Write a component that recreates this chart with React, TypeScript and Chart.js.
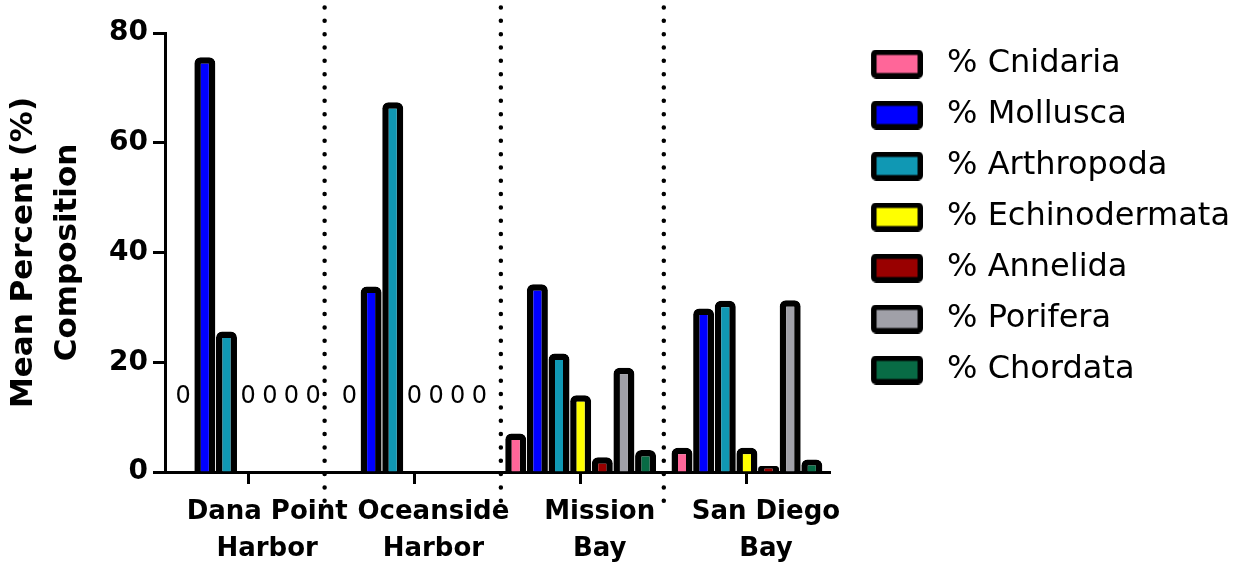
import React, { useEffect, useRef } from 'react';
import { Chart, registerables } from 'chart.js';

Chart.register(...registerables);

// ---- data ----
const sites: string[][] = [
  ['Dana Point', 'Harbor'],
  ['Oceanside', 'Harbor'],
  ['Mission', 'Bay'],
  ['San Diego', 'Bay'],
];
const seriesNames = [
  '% Cnidaria',
  '% Mollusca',
  '% Arthropoda',
  '% Echinodermata',
  '% Annelida',
  '% Porifera',
  '% Chordata',
];
const cnidaria = [0, 0, 7.0, 4.4];
const mollusca = [75.6, 33.8, 34.2, 29.8];
const arthropoda = [25.6, 67.4, 21.6, 31.2];
const echinodermata = [0, 0, 14.0, 4.4];
const annelida = [0, 0, 2.7, 1.1];
const porifera = [0, 0, 19.0, 31.3];
const chordata = [0, 0, 4.0, 2.3];
const seriesValues = [cnidaria, mollusca, arthropoda, echinodermata, annelida, porifera, chordata];
const seriesColors = ['#FF6699', '#0000FF', '#1098B4', '#FFFF00', '#990000', '#A0A0A8', '#086B45'];
const yMin = 0;
const yMax = 80;
const yStep = 20;
// dotted separators, in category units
const dividerPositions = [0.46, 1.52, 2.5];
// height (in axis units) where "0" annotations for empty bars are written
const zeroLabelLevel = 13.7;

const FONT = "'DejaVu Sans', 'Liberation Sans', Arial, sans-serif";

function makeLegendIcon(color: string): HTMLCanvasElement {
  const c = document.createElement('canvas');
  c.width = 66;
  c.height = 29;
  const g = c.getContext('2d')!;
  g.fillStyle = '#000';
  g.beginPath();
  (g as any).roundRect(14, 0, 52, 29, 5);
  g.fill();
  g.fillStyle = color;
  g.fillRect(19.5, 5.5, 41, 18);
  return c;
}

const zeroLabelPlugin = {
  id: 'zeroLabels',
  afterDatasetsDraw(chart: any) {
    const ctx = chart.ctx;
    const y = chart.scales.y.getPixelForValue(zeroLabelLevel);
    ctx.save();
    ctx.font = `24px ${FONT}`;
    ctx.fillStyle = '#000';
    ctx.textAlign = 'center';
    ctx.textBaseline = 'middle';
    chart.data.datasets.forEach((ds: any, i: number) => {
      const meta = chart.getDatasetMeta(i);
      ds.data.forEach((v: number, j: number) => {
        if (v === 0) ctx.fillText('0', meta.data[j].x, y);
      });
    });
    ctx.restore();
  },
};

const dividerPlugin = {
  id: 'dividers',
  afterDraw(chart: any) {
    const ctx = chart.ctx;
    const xs = chart.scales.x;
    const { top, bottom } = chart.chartArea;
    ctx.save();
    ctx.strokeStyle = '#000';
    ctx.lineWidth = 4.5;
    ctx.lineCap = 'round';
    ctx.setLineDash([0, 13.33]);
    dividerPositions.forEach((v) => {
      const x = xs.getPixelForValue(v);
      ctx.beginPath();
      ctx.moveTo(x, top - 25.5);
      ctx.lineTo(x, bottom + 29);
      ctx.stroke();
    });
    ctx.restore();
  },
};

export default function App() {
  const canvasRef = useRef<HTMLCanvasElement | null>(null);

  useEffect(() => {
    if (!canvasRef.current) return;
    const icons = seriesColors.map((c) => makeLegendIcon(c));
    const chart = new Chart(canvasRef.current, {
      type: 'bar',
      data: {
        labels: sites,
        datasets: seriesNames.map((name, i) => ({
          label: name,
          data: seriesValues[i],
          backgroundColor: seriesColors[i],
          borderColor: '#000',
          borderWidth: 6.5,
          borderRadius: 6,
          borderSkipped: 'start',
          categoryPercentage: 0.911,
          barPercentage: 0.97,
        })),
      },
      options: {
        responsive: false,
        animation: false,
        layout: { padding: { top: 29, right: 5, bottom: 0, left: 0 } },
        plugins: {
          tooltip: { enabled: false },
          legend: {
            position: 'right',
            align: 'start',
            maxWidth: 416,
            labels: {
              usePointStyle: true,
              pointStyleWidth: 82,
              padding: 19,
              color: '#000',
              font: { family: FONT, size: 32 },
              generateLabels: (ch: any) =>
                ch.data.datasets.map((ds: any, i: number) => ({
                  text: ds.label,
                  pointStyle: icons[i],
                  fillStyle: ds.backgroundColor,
                  strokeStyle: '#000',
                  lineWidth: 0,
                  hidden: false,
                  datasetIndex: i,
                })),
            },
          },
        },
        scales: {
          x: {
            offset: true,
            ticks: {
              color: '#000',
              font: { family: FONT, size: 26, weight: 'bold', lineHeight: 1.45 },
              padding: 9,
              labelOffset: 19,
              maxRotation: 0,
              autoSkip: false,
            },
            grid: {
              offset: false,
              drawOnChartArea: false,
              drawTicks: true,
              tickLength: 12,
              tickWidth: 3,
              tickColor: '#000',
            },
            border: { display: true, color: '#000', width: 3 },
            afterFit: (s: any) => {
              s.height = 92;
            },
          },
          y: {
            min: yMin,
            max: yMax,
            ticks: {
              stepSize: yStep,
              color: '#000',
              font: { family: FONT, size: 28, weight: 'bold' },
              padding: 5,
            },
            grid: {
              drawOnChartArea: false,
              drawTicks: true,
              tickLength: 12,
              tickWidth: 3,
              tickColor: '#000',
            },
            border: { display: true, color: '#000', width: 3 },
            title: {
              display: true,
              text: ['Mean Percent (%)', 'Composition'],
              color: '#000',
              font: { family: FONT, size: 31, weight: 'bold', lineHeight: 1.42 },
              padding: { top: 2, bottom: 0 },
            },
            afterFit: (s: any) => {
              s.width = 165;
              s.paddingTop = 33;
            },
          },
        },
      } as any,
      plugins: [zeroLabelPlugin, dividerPlugin],
    });
    return () => chart.destroy();
  }, []);

  return (
    <div style={{ position: 'absolute', left: 0, top: 0, width: 1245, height: 564, background: '#fff' }}>
      <canvas ref={canvasRef} width={1245} height={564} style={{ display: 'block' }} />
    </div>
  );
}
